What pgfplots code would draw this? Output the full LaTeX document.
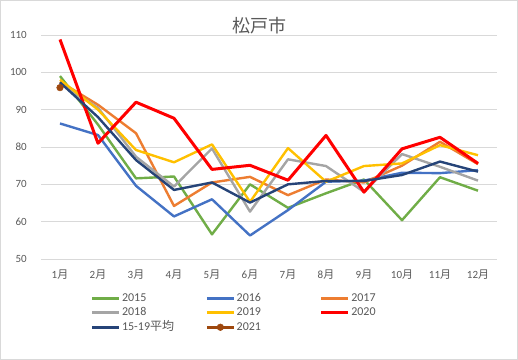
\documentclass[border=0pt]{standalone}
\usepackage{fontspec}
\setmainfont{Carlito}
\newfontfamily\cjk{Noto Sans CJK JP}
\usepackage{pgfplots}
\pgfplotsset{compat=1.18}
\definecolor{cGreen}{HTML}{70AD47}
\definecolor{cBlue}{HTML}{4472C4}
\definecolor{cOrange}{HTML}{ED7D31}
\definecolor{cGray}{HTML}{A5A5A5}
\definecolor{cYellow}{HTML}{FFC000}
\definecolor{cRed}{HTML}{FF0000}
\definecolor{cNavy}{HTML}{264478}
\definecolor{cBrown}{HTML}{9E480E}
\definecolor{txt}{HTML}{595959}
\definecolor{gridc}{HTML}{D9D9D9}
\begin{document}
\begin{tikzpicture}
\path[draw=gridc, line width=1bp] (0.5bp,0.5bp) rectangle (517.5bp,359.5bp);
\node[text=txt, font=\fontsize{18bp}{20bp}\selectfont\cjk, anchor=center] at (259bp,334bp) {松戸市};
\begin{axis}[
  at={(41bp,101bp)}, anchor=south west,
  scale only axis, width=456bp, height=224bp,
  xmin=0.5, xmax=12.5, ymin=50, ymax=110,
  axis line style={draw=none},
  ytick={50,60,...,110},
  xtick={1,...,12},
  xticklabels={1{\cjk 月},2{\cjk 月},3{\cjk 月},4{\cjk 月},5{\cjk 月},6{\cjk 月},7{\cjk 月},8{\cjk 月},9{\cjk 月},10{\cjk 月},11{\cjk 月},12{\cjk 月}},
  major tick length=0pt,
  tick style={draw=none},
  ymajorgrids, xmajorgrids=false,
  y grid style={draw=gridc, line width=0.9bp},
  /pgf/number format/assume math mode=true,
  tick label style={text=txt, font=\fontsize{11bp}{13bp}\selectfont},
  yticklabel style={anchor=east, inner sep=0pt, xshift=-14bp},
  xticklabel style={anchor=north, inner sep=0pt, yshift=-11bp},
  legend columns=3,
  legend style={at={(0.1096,-0.1429)}, anchor=north west, draw=none, inner sep=0pt, outer sep=0pt,
    font=\fontsize{12bp}{14bp}\selectfont, text=txt,
    nodes={inner xsep=1.5bp, inner ysep=2bp, text height=8bp, text depth=2.5bp},
    row sep=0pt, column sep=0pt},
  legend cell align=left,
  legend image code/.code={\draw[#1, line width=2.6bp, mark repeat=2, mark phase=2] plot coordinates {(0bp,0bp) (13.5bp,0bp) (27bp,0bp)};},
]
\addplot[cGreen, mark=none, line width=2.4bp, line join=round] coordinates {(1,99.0)(2,86.0)(3,71.6)(4,72.1)(5,56.6)(6,70.0)(7,63.7)(8,67.6)(9,71.3)(10,60.4)(11,71.9)(12,68.3)};
\addlegendentry{\makebox[82bp][l]{2015}}
\addplot[cBlue, mark=none, line width=2.4bp, line join=round] coordinates {(1,86.3)(2,83.2)(3,69.6)(4,61.4)(5,66.0)(6,56.3)(7,63.1)(8,70.7)(9,71.0)(10,73.1)(11,73.0)(12,73.8)};
\addlegendentry{\makebox[82bp][l]{2016}}
\addplot[cOrange, mark=none, line width=2.4bp, line join=round] coordinates {(1,97.5)(2,91.3)(3,83.7)(4,64.2)(5,70.5)(6,72.0)(7,67.1)(8,71.3)(9,70.5)(10,75.0)(11,81.4)(12,75.4)};
\addlegendentry{\makebox[82bp][l]{2017}}
\addplot[cGray, mark=none, line width=2.4bp, line join=round] coordinates {(1,97.0)(2,90.5)(3,77.4)(4,69.4)(5,79.6)(6,62.7)(7,76.7)(8,74.9)(9,68.0)(10,78.1)(11,74.7)(12,71.0)};
\addlegendentry{\makebox[82bp][l]{2018}}
\addplot[cYellow, mark=none, line width=2.4bp, line join=round] coordinates {(1,98.0)(2,90.0)(3,79.2)(4,75.9)(5,80.7)(6,65.3)(7,79.7)(8,70.7)(9,74.9)(10,75.6)(11,80.5)(12,77.8)};
\addlegendentry{\makebox[82bp][l]{2019}}
\addplot[cRed, mark=none, line width=3bp, line join=round] coordinates {(1,108.8)(2,81.0)(3,92.0)(4,87.7)(5,74.0)(6,75.1)(7,71.1)(8,83.1)(9,67.9)(10,79.5)(11,82.6)(12,75.6)};
\addlegendentry{\makebox[82bp][l]{2020}}
\addplot[cNavy, mark=none, line width=2.4bp, line join=round] coordinates {(1,97.3)(2,88.0)(3,76.5)(4,68.5)(5,70.5)(6,65.1)(7,70.0)(8,70.9)(9,70.9)(10,72.5)(11,76.1)(12,73.4)};
\addlegendentry{\makebox[82bp][l]{15-19{\cjk 平均}}}
\addplot[cBrown, mark=*, line width=2.4bp, mark size=3.3bp, mark options={solid, fill=cBrown, draw=cBrown, line width=0.5bp}] coordinates {(1,95.9)};
\addlegendentry{\makebox[82bp][l]{2021}}
\end{axis}
\end{tikzpicture}
\end{document}
